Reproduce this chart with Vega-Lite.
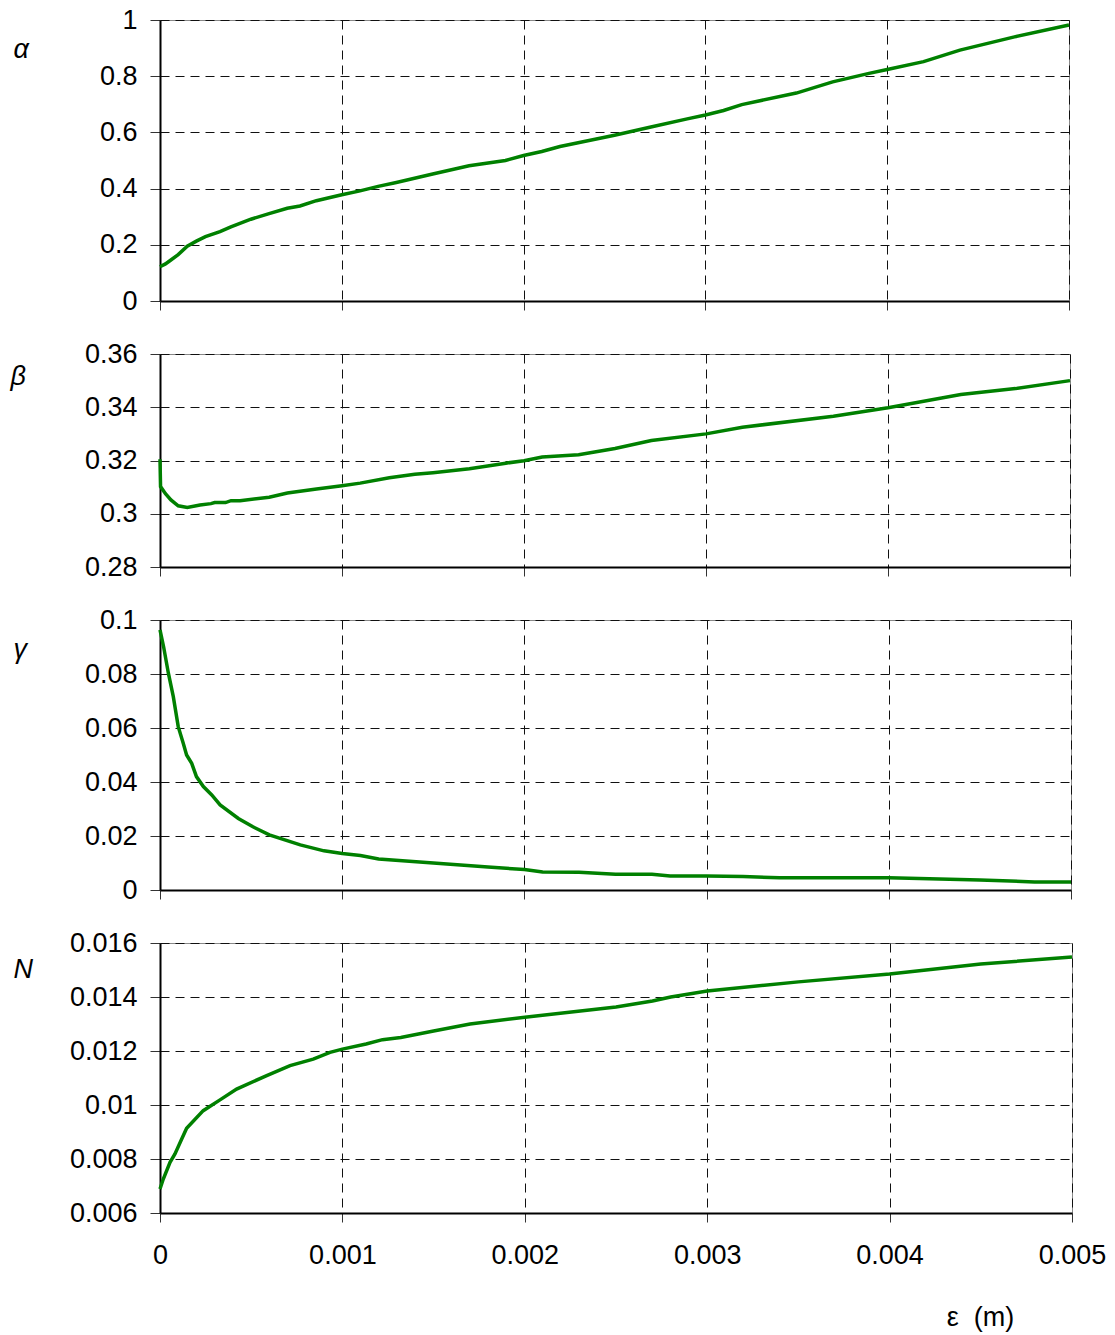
{
  "$schema": "https://vega.github.io/schema/vega-lite/v6.json",
  "padding": {"left": 9, "top": 5, "right": 5, "bottom": 5},
  "background": "white",
  "bounds": "flush",
  "spacing": 53,
  "config": {
    "view": {"stroke": "#888", "strokeWidth": 1},
    "font": "Liberation Sans",
    "axis": {
      "labelFont": "Liberation Sans", "labelFontSize": 27, "labelColor": "black",
      "titleFont": "Liberation Sans", "titleFontSize": 27, "titleFontWeight": "normal", "titleColor": "black",
      "grid": true, "gridColor": "#111", "gridDash": [9, 6], "gridWidth": 1,
      "domainColor": "black", "domainWidth": 2,
      "tickColor": "#333", "tickWidth": 1,
      "labelFlush": false, "labelOverlap": false, "format": "~g"
    },
    "axisX": {"tickSize": 9, "labelPadding": 20},
    "axisY": {"tickSize": 10, "labelPadding": 13}
  },
  "datasets": {
    "alpha": [
      {"e": 0, "v": 0.122}, {"e": 0.00003, "v": 0.132}, {"e": 0.00006, "v": 0.146}, {"e": 0.0001, "v": 0.165},
      {"e": 0.00015, "v": 0.195}, {"e": 0.0002, "v": 0.213}, {"e": 0.00025, "v": 0.229}, {"e": 0.00033, "v": 0.247},
      {"e": 0.00039, "v": 0.264}, {"e": 0.0005, "v": 0.291}, {"e": 0.0006, "v": 0.311}, {"e": 0.0007, "v": 0.33},
      {"e": 0.00077, "v": 0.338}, {"e": 0.00086, "v": 0.357}, {"e": 0.001, "v": 0.378}, {"e": 0.0011, "v": 0.392},
      {"e": 0.0012, "v": 0.408}, {"e": 0.0013, "v": 0.422}, {"e": 0.0015, "v": 0.452}, {"e": 0.0017, "v": 0.481},
      {"e": 0.0019, "v": 0.5}, {"e": 0.002, "v": 0.518}, {"e": 0.0021, "v": 0.532}, {"e": 0.0022, "v": 0.55},
      {"e": 0.0025, "v": 0.59}, {"e": 0.0027, "v": 0.619}, {"e": 0.0029, "v": 0.648}, {"e": 0.003, "v": 0.662},
      {"e": 0.0031, "v": 0.678}, {"e": 0.0032, "v": 0.699}, {"e": 0.0035, "v": 0.74}, {"e": 0.0037, "v": 0.78},
      {"e": 0.0039, "v": 0.81}, {"e": 0.004, "v": 0.824}, {"e": 0.0042, "v": 0.852}, {"e": 0.0044, "v": 0.893},
      {"e": 0.0047, "v": 0.94}, {"e": 0.005, "v": 0.982}
    ],
    "beta": [
      {"e": 0, "v": 0.3205}, {"e": 0.000003, "v": 0.3102}, {"e": 0.00003, "v": 0.3075}, {"e": 0.00006, "v": 0.3052},
      {"e": 0.0001, "v": 0.303}, {"e": 0.00015, "v": 0.3024}, {"e": 0.00022, "v": 0.3033}, {"e": 0.00028, "v": 0.3038},
      {"e": 0.0003, "v": 0.3042}, {"e": 0.00036, "v": 0.3042}, {"e": 0.00039, "v": 0.3049}, {"e": 0.00044, "v": 0.3049},
      {"e": 0.0006, "v": 0.3062}, {"e": 0.0007, "v": 0.3078}, {"e": 0.00086, "v": 0.3093}, {"e": 0.001, "v": 0.3105},
      {"e": 0.0011, "v": 0.3115}, {"e": 0.00126, "v": 0.3135}, {"e": 0.0014, "v": 0.3148}, {"e": 0.0015, "v": 0.3154},
      {"e": 0.0017, "v": 0.3169}, {"e": 0.0019, "v": 0.319}, {"e": 0.002, "v": 0.3199}, {"e": 0.0021, "v": 0.3213},
      {"e": 0.0023, "v": 0.3222}, {"e": 0.0025, "v": 0.3245}, {"e": 0.0027, "v": 0.3275}, {"e": 0.003, "v": 0.33},
      {"e": 0.0032, "v": 0.3325}, {"e": 0.0037, "v": 0.3366}, {"e": 0.004, "v": 0.3398}, {"e": 0.0044, "v": 0.3448},
      {"e": 0.0047, "v": 0.347}, {"e": 0.005, "v": 0.35}
    ],
    "gamma": [
      {"e": 0, "v": 0.0963}, {"e": 0.00002, "v": 0.09}, {"e": 0.000046, "v": 0.0803}, {"e": 0.000073, "v": 0.0716},
      {"e": 0.0001, "v": 0.0605}, {"e": 0.000128, "v": 0.0543}, {"e": 0.000146, "v": 0.05}, {"e": 0.000174, "v": 0.0469},
      {"e": 0.0002, "v": 0.042}, {"e": 0.000238, "v": 0.0383}, {"e": 0.000284, "v": 0.0352}, {"e": 0.00033, "v": 0.0315},
      {"e": 0.00043, "v": 0.0265}, {"e": 0.00051, "v": 0.0234}, {"e": 0.0006, "v": 0.0204}, {"e": 0.00077, "v": 0.0167},
      {"e": 0.0009, "v": 0.0145}, {"e": 0.001, "v": 0.0135}, {"e": 0.0011, "v": 0.0128}, {"e": 0.0012, "v": 0.0115},
      {"e": 0.0015, "v": 0.01}, {"e": 0.0018, "v": 0.0085}, {"e": 0.002, "v": 0.0076}, {"e": 0.0021, "v": 0.0067},
      {"e": 0.0023, "v": 0.0066}, {"e": 0.0025, "v": 0.0058}, {"e": 0.0027, "v": 0.0058}, {"e": 0.0028, "v": 0.0052},
      {"e": 0.003, "v": 0.0052}, {"e": 0.0032, "v": 0.005}, {"e": 0.0034, "v": 0.0045}, {"e": 0.004, "v": 0.0045},
      {"e": 0.0045, "v": 0.0037}, {"e": 0.0048, "v": 0.003}, {"e": 0.005, "v": 0.003}
    ],
    "N": [
      {"e": 0, "v": 0.00689}, {"e": 0.000018, "v": 0.00726}, {"e": 0.000055, "v": 0.00788}, {"e": 0.000082, "v": 0.00819},
      {"e": 0.000119, "v": 0.00874}, {"e": 0.000146, "v": 0.00914}, {"e": 0.000237, "v": 0.00979}, {"e": 0.000329, "v": 0.01019},
      {"e": 0.00042, "v": 0.01059}, {"e": 0.000585, "v": 0.01109}, {"e": 0.000713, "v": 0.01146}, {"e": 0.00084, "v": 0.0117},
      {"e": 0.000932, "v": 0.01195}, {"e": 0.001, "v": 0.01207}, {"e": 0.00113, "v": 0.01226}, {"e": 0.00122, "v": 0.01242},
      {"e": 0.00132, "v": 0.0125}, {"e": 0.0015, "v": 0.01274}, {"e": 0.0017, "v": 0.013}, {"e": 0.002, "v": 0.01325},
      {"e": 0.0025, "v": 0.01363}, {"e": 0.0027, "v": 0.01385}, {"e": 0.0028, "v": 0.014}, {"e": 0.003, "v": 0.01422},
      {"e": 0.0035, "v": 0.01456}, {"e": 0.004, "v": 0.01485}, {"e": 0.0042, "v": 0.015}, {"e": 0.0045, "v": 0.01522},
      {"e": 0.005, "v": 0.01548}
    ]
  },
  "vconcat": [
    {
      "width": 909, "height": 281,
      "data": {"name": "alpha"},
      "mark": {"type": "line", "color": "#008000", "strokeWidth": 3.5},
      "encoding": {
        "x": {"field": "e", "type": "quantitative", "scale": {"domain": [0, 0.005], "nice": false},
              "axis": {"values": [0, 0.001, 0.002, 0.003, 0.004, 0.005], "labels": false, "title": null}},
        "y": {"field": "v", "type": "quantitative", "scale": {"domain": [0, 1], "nice": false, "zero": false},
              "axis": {"values": [0, 0.2, 0.4, 0.6, 0.8, 1], "title": "α", "titleAngle": 0, "titleAlign": "left",
                       "titleBaseline": "alphabetic", "titleX": -147, "titleY": 37, "titleFontStyle": "italic"}}
      }
    },
    {
      "width": 910, "height": 213,
      "data": {"name": "beta"},
      "mark": {"type": "line", "color": "#008000", "strokeWidth": 3.5},
      "encoding": {
        "x": {"field": "e", "type": "quantitative", "scale": {"domain": [0, 0.005], "nice": false},
              "axis": {"values": [0, 0.001, 0.002, 0.003, 0.004, 0.005], "labels": false, "title": null}},
        "y": {"field": "v", "type": "quantitative", "scale": {"domain": [0.28, 0.36], "nice": false, "zero": false},
              "axis": {"values": [0.28, 0.3, 0.32, 0.34, 0.36], "title": "β", "titleAngle": 0, "titleAlign": "left",
                       "titleBaseline": "alphabetic", "titleX": -150, "titleY": 30, "titleFontStyle": "italic"}}
      }
    },
    {
      "width": 911, "height": 270,
      "data": {"name": "gamma"},
      "mark": {"type": "line", "color": "#008000", "strokeWidth": 3.5},
      "encoding": {
        "x": {"field": "e", "type": "quantitative", "scale": {"domain": [0, 0.005], "nice": false},
              "axis": {"values": [0, 0.001, 0.002, 0.003, 0.004, 0.005], "labels": false, "title": null}},
        "y": {"field": "v", "type": "quantitative", "scale": {"domain": [0, 0.1], "nice": false, "zero": false},
              "axis": {"values": [0, 0.02, 0.04, 0.06, 0.08, 0.1], "title": "γ", "titleAngle": 0, "titleAlign": "left",
                       "titleBaseline": "alphabetic", "titleX": -147, "titleY": 37, "titleFontStyle": "italic"}}
      }
    },
    {
      "width": 912, "height": 270,
      "data": {"name": "N"},
      "mark": {"type": "line", "color": "#008000", "strokeWidth": 3.5},
      "encoding": {
        "x": {"field": "e", "type": "quantitative", "scale": {"domain": [0, 0.005], "nice": false},
              "axis": {"values": [0, 0.001, 0.002, 0.003, 0.004, 0.005], "title": "ε\u00a0\u00a0(m)", "titleAlign": "center",
                       "titleBaseline": "alphabetic", "titleX": 820, "titleY": 112, "titleFontStyle": "normal"}},
        "y": {"field": "v", "type": "quantitative", "scale": {"domain": [0.006, 0.016], "nice": false, "zero": false},
              "axis": {"values": [0.006, 0.008, 0.01, 0.012, 0.014, 0.016], "title": "N", "titleAngle": 0, "titleAlign": "left",
                       "titleBaseline": "alphabetic", "titleX": -147, "titleY": 34, "titleFontStyle": "italic"}}
      }
    }
  ]
}
